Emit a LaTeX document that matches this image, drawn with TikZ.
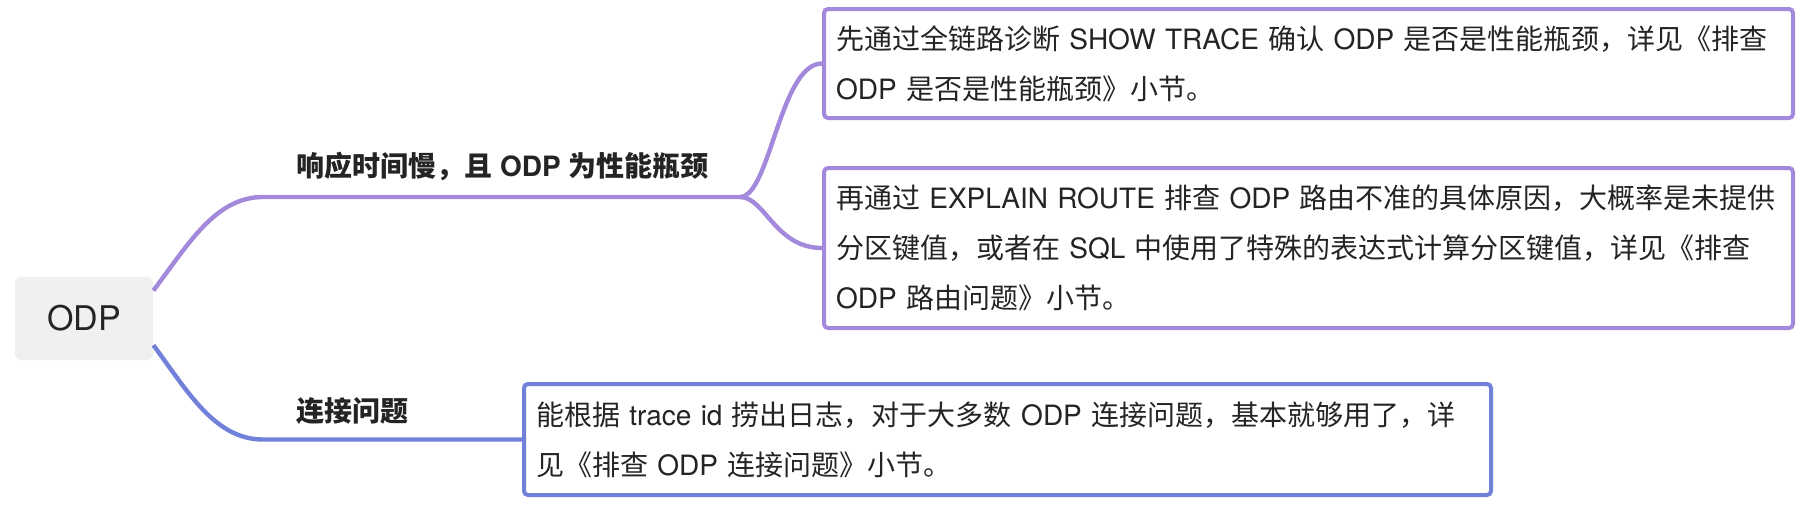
\documentclass[tikz,border=0pt]{standalone}
\usepackage{fontspec}
\setmainfont{Noto Sans CJK SC}
\newfontfamily\latinfont{TeX Gyre Heros}
\newcommand{\latn}[1]{{\latinfont #1}}
\usetikzlibrary{calc}

\definecolor{mapPurple}{RGB}{163,137,220}
\definecolor{mapBlue}{RGB}{113,129,217}
\definecolor{rootGray}{RGB}{239,240,240}
\definecolor{inkDark}{RGB}{36,36,36}

\begin{document}
\begin{tikzpicture}[
    x=0.5pt, y=-0.5pt,
    root/.style={fill=rootGray, rounded corners=3pt, minimum width=69pt, minimum height=41.5pt, inner sep=0pt, font=\latinfont\fontsize{17}{20}\selectfont, text=inkDark},
    topic/.style={anchor=base west, inner sep=0pt, font=\bfseries\fontsize{14}{17}\selectfont, text=inkDark},
    note/.style={fill=white, rounded corners=2pt, line width=2pt, inner xsep=6pt, inner ysep=0pt, align=left, font=\fontsize{14}{25}\selectfont, text=inkDark},
    linkA/.style={line width=2.2pt, draw=mapPurple},
    linkB/.style={line width=2.2pt, draw=mapBlue}
]
    \useasboundingbox (0,0) rectangle (1812,504);

    % Root
    \node[root] (odp) at (84, 318.5) {ODP};

    % Branch labels
    \node[topic] (slowlbl) at (296, 176) {响应时间慢，且\latn{ ODP }为性能瓶颈};
    \node[topic] (connlbl) at (296, 421) {连接问题};

    % Notes
    \node[note, draw=mapPurple, text width=472.5pt, minimum height=54.5pt] (trace) at (1308.5, 63.5)
        {先通过全链路诊断\latn{ SHOW TRACE }确认\latn{ ODP }是否是性能瓶颈，详见《排查\\\latn{ODP }是否是性能瓶颈》小节。};
    \node[note, draw=mapPurple, text width=472.5pt, minimum height=80pt] (route) at (1308.5, 248)
        {再通过\latn{ EXPLAIN ROUTE }排查\latn{ ODP }路由不准的具体原因，大概率是未提供\\分区键值，或者在\latn{ SQL }中使用了特殊的表达式计算分区键值，详见《排查\\\latn{ODP }路由问题》小节。};
    \node[note, draw=mapBlue, text width=471.5pt, minimum height=55.5pt] (connlog) at (1007.5, 439.5)
        {能根据\latn{ trace id }捞出日志，对于大多数\latn{ ODP }连接问题，基本就够用了，详\\见《排查\latn{ ODP }连接问题》小节。};

    % Branch lines
    \coordinate (forkA) at (263, 197);
    \coordinate (splitA) at (740, 197);
    \coordinate (forkB) at (263, 439.5);
    \draw[linkA] (odp.22) .. controls (188, 245) and (215, 197) .. (forkA) -- (splitA);
    \draw[linkA] (splitA) .. controls (770, 197) and (780, 63.5) .. (trace.west);
    \draw[linkA] (splitA) .. controls (765, 197) and (775, 248) .. (route.west);
    \draw[linkB] (odp.-21) .. controls (188, 392) and (215, 439.5) .. (forkB) -- (connlog.west);

\end{tikzpicture}
\end{document}
